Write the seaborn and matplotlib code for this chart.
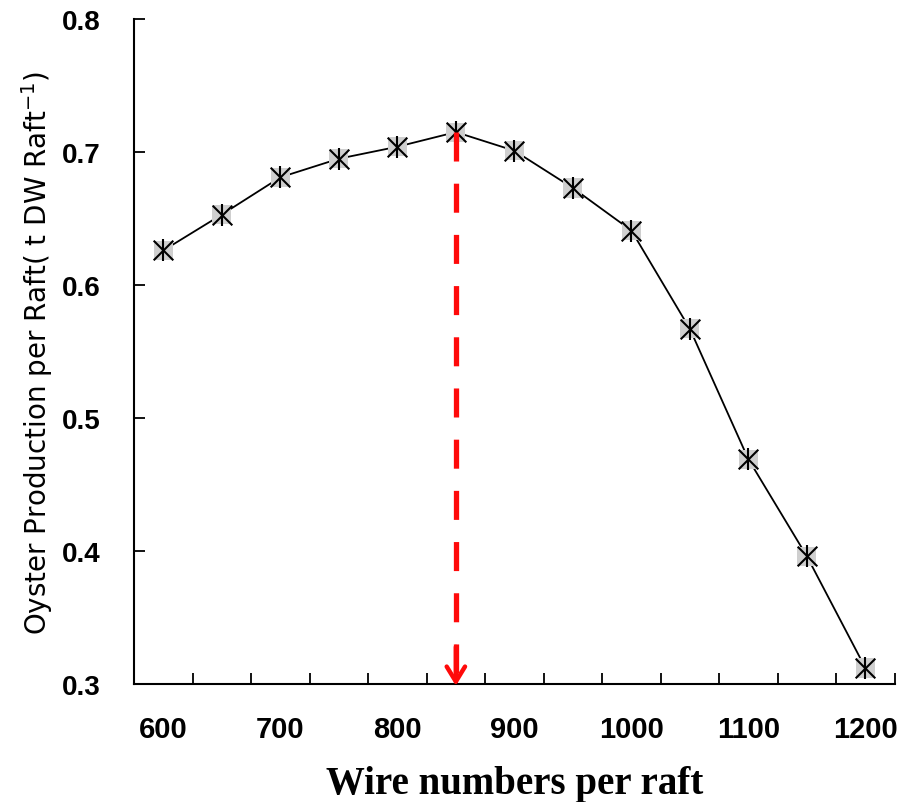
import pandas as pd
import seaborn as sns
import matplotlib.pyplot as plt
import numpy as np

# data
wires = [600, 650, 700, 750, 800, 850, 900, 950, 1000, 1050, 1100, 1150, 1200]
production = [0.626, 0.653, 0.681, 0.695, 0.704, 0.715, 0.701, 0.673, 0.641, 0.567, 0.469, 0.396, 0.312]
optimum_wires = 850
optimum_prod = 0.715

df = pd.DataFrame({'Wires': wires, 'Production': production})

sns.set_theme(style="white")
plt.rcParams['font.family'] = ['Liberation Sans', 'DejaVu Sans']
plt.rcParams['text.color'] = 'black'
plt.rcParams['axes.labelcolor'] = 'black'
plt.rcParams['xtick.color'] = 'black'
plt.rcParams['ytick.color'] = 'black'

fig = plt.figure(figsize=(9.12, 8.03), dpi=100)
ax = fig.add_axes([0.147, 0.147, 0.834, 0.828])

# line + gray box + asterisk marker (x plus vertical bar)
sns.lineplot(data=df, x='Wires', y='Production', color='black', linewidth=1.3, ax=ax, zorder=2)
sns.scatterplot(data=df, x='Wires', y='Production', marker='s', s=190, color='#cfcfcf',
                edgecolor='none', ax=ax, zorder=3)
sns.scatterplot(data=df, x='Wires', y='Production', marker='x', s=200, color='black',
                linewidth=1.5, ax=ax, zorder=4)
sns.scatterplot(data=df, x='Wires', y='Production', marker='|', s=260, color='black',
                linewidth=1.5, ax=ax, zorder=4)

# red dashed arrow from the optimum down to the x axis
ax.plot([optimum_wires, optimum_wires], [optimum_prod, 0.305], color='#ff0a0a', linewidth=3.8,
        linestyle=(0, (5.5, 4.2)), zorder=5, dash_capstyle='butt')
ax.annotate('', xy=(optimum_wires, 0.2965), xytext=(optimum_wires, 0.33),
            arrowprops=dict(arrowstyle='->,head_length=0.9,head_width=0.55', color='#ff0a0a', lw=3.2),
            annotation_clip=False, zorder=6)

ax.set_xlim(575, 1225)
ax.set_ylim(0.3, 0.8)
ax.set_xticks(np.arange(600, 1201, 100))
ax.set_xticks(np.arange(625, 1226, 50), minor=True)
ax.set_yticks(np.arange(0.3, 0.81, 0.1))
ax.set_yticklabels(['0.3', '0.4', '0.5', '0.6', '0.7', '0.8'])
ax.tick_params(axis='x', which='major', length=0, labelsize=21, pad=22)
ax.tick_params(axis='x', which='minor', direction='in', length=8, width=1.3, bottom=True)
ax.tick_params(axis='y', direction='in', length=8, width=1.3, labelsize=20, pad=24, left=True)
for lab in ax.get_xticklabels() + ax.get_yticklabels():
    lab.set_fontweight('bold')

for s in ['top', 'right']:
    ax.spines[s].set_visible(False)
for s in ['left', 'bottom']:
    ax.spines[s].set_color('black')
    ax.spines[s].set_linewidth(1.5)

ax.set_xlabel('Wire numbers per raft', family=['Liberation Serif'], fontweight='bold',
              fontsize=28, labelpad=16)
ax.set_ylabel('Oyster Production per Raft( t DW Raft$^{-1}$)', family=['DejaVu Sans'],
              fontsize=20, labelpad=5)

plt.savefig('out.png', dpi=100)
